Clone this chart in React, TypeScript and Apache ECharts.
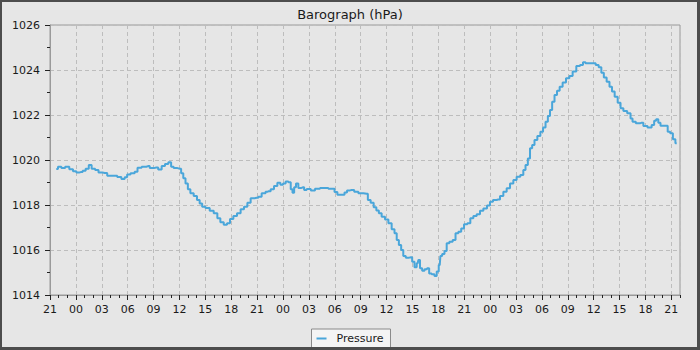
import React, { useEffect, useRef } from "react";
import * as echarts from "echarts";

const title = "Barograph (hPa)";
const seriesName = "Pressure";
// hours elapsed since 21:00 on the first day
const hours = [
  0.73, 1.12, 1.51, 2.0, 2.47, 2.86, 3.24, 3.63, 3.94, 4.32, 4.67, 4.98, 5.48, 5.76, 6.34, 6.92, 7.5, 8.08, 8.46, 8.84,
  9.04, 9.62, 10.0, 10.28, 10.97, 11.36, 11.74, 12.32, 12.75, 13.13, 13.52, 13.9, 14.17, 14.48, 15.06, 15.33, 15.56,
  15.84, 16.11, 16.42, 16.88, 17.18, 17.5, 17.76, 18.27, 18.74, 19.2, 19.58, 19.9, 20.36, 20.66, 21.05, 21.44, 21.9,
  22.28, 22.68, 23.06, 23.44, 23.95, 24.33, 24.72, 25.23, 25.38, 25.76, 26.15, 26.54, 26.85, 27.15, 27.46, 27.78,
  28.01, 28.19, 28.39, 28.62, 28.93, 29.35, 29.55, 29.93, 30.51, 30.9, 31.67, 32.83, 33.11, 33.49, 33.99, 34.26,
  34.57, 34.96, 35.54, 35.92, 36.7, 36.96, 37.35, 37.66, 37.97, 38.24, 38.62, 39.02, 39.4, 39.78, 40.06, 40.29,
  40.56, 40.82, 41.05, 41.4, 41.83, 42.1, 42.37, 42.61, 42.76, 42.99, 43.26, 43.54, 43.84, 44.03, 44.41, 44.69,
  44.93, 45.16, 45.31, 45.57, 45.85, 46.08, 46.47, 46.85, 47.13, 47.51, 47.78, 48.17, 48.55, 48.86, 49.25, 49.63,
  50.02, 50.41, 50.87, 51.1, 51.56, 51.95, 52.34, 52.72, 53.11, 53.5, 53.88, 54.26, 54.73, 54.96, 55.24, 55.5,
  55.74, 56.0, 56.28, 56.66, 56.98, 57.28, 57.56, 57.82, 58.05, 58.32, 58.6, 58.9, 59.21, 59.59, 59.99, 60.37,
  60.75, 61.22, 61.61, 61.91, 62.19, 62.77, 63.04, 63.42, 63.73, 64.04, 64.31, 64.69, 64.97, 65.27, 65.59, 65.97,
  66.25, 66.63, 67.13, 67.41, 67.59, 68.17, 68.56, 68.95, 69.52, 69.91, 70.1, 70.37, 70.6, 70.88, 71.46, 71.69,
  72.04, 72.31, 72.62,
];
const pressure = [
  1019.6, 1019.7, 1019.64, 1019.7, 1019.59, 1019.5, 1019.45, 1019.47, 1019.52, 1019.61, 1019.78, 1019.61, 1019.56,
  1019.45, 1019.42, 1019.3, 1019.3, 1019.24, 1019.16, 1019.23, 1019.36, 1019.41, 1019.48, 1019.66, 1019.7, 1019.73,
  1019.64, 1019.67, 1019.58, 1019.73, 1019.82, 1019.9, 1019.7, 1019.64, 1019.61, 1019.41, 1019.19, 1018.96, 1018.7,
  1018.52, 1018.4, 1018.22, 1018.07, 1017.92, 1017.87, 1017.75, 1017.63, 1017.41, 1017.23, 1017.12, 1017.19,
  1017.38, 1017.51, 1017.63, 1017.81, 1017.92, 1018.1, 1018.3, 1018.32, 1018.37, 1018.52, 1018.59, 1018.61, 1018.7,
  1018.84, 1018.99, 1018.9, 1018.96, 1019.05, 1019.01, 1018.7, 1018.55, 1018.79, 1018.96, 1018.76, 1018.79, 1018.67,
  1018.71, 1018.65, 1018.72, 1018.76, 1018.72, 1018.58, 1018.46, 1018.46, 1018.56, 1018.65, 1018.67, 1018.59,
  1018.52, 1018.5, 1018.22, 1018.1, 1017.9, 1017.76, 1017.63, 1017.48, 1017.36, 1017.19, 1016.92, 1016.74, 1016.44,
  1016.22, 1016.0, 1015.73, 1015.66, 1015.68, 1015.48, 1015.23, 1015.41, 1015.56, 1015.19, 1015.08, 1015.14,
  1015.19, 1014.96, 1014.92, 1014.84, 1015.04, 1015.33, 1015.73, 1015.82, 1015.96, 1016.3, 1016.37, 1016.44,
  1016.74, 1016.81, 1016.96, 1017.14, 1017.19, 1017.41, 1017.51, 1017.59, 1017.75, 1017.85, 1017.98, 1018.15,
  1018.22, 1018.25, 1018.4, 1018.59, 1018.74, 1018.96, 1019.11, 1019.26, 1019.33, 1019.56, 1019.78, 1020.07,
  1020.52, 1020.67, 1020.89, 1021.07, 1021.26, 1021.45, 1021.7, 1021.96, 1022.22, 1022.59, 1022.89, 1023.08,
  1023.26, 1023.44, 1023.63, 1023.73, 1023.93, 1024.18, 1024.22, 1024.34, 1024.3, 1024.3, 1024.3, 1024.22, 1024.12,
  1023.88, 1023.67, 1023.48, 1023.26, 1023.04, 1022.81, 1022.55, 1022.3, 1022.18, 1022.08, 1021.85, 1021.7,
  1021.63, 1021.66, 1021.51, 1021.44, 1021.56, 1021.75, 1021.81, 1021.66, 1021.52, 1021.52, 1021.26, 1021.19,
  1020.92, 1020.74,
];
const startHour = 21;
const xMin = 0;
const xMax = 73;
const yMin = 1014;
const yMax = 1026;

const FONT = "DejaVu Sans";

export default function App() {
  const ref = useRef<HTMLDivElement>(null);
  useEffect(() => {
    if (!ref.current) return;
    const chart = echarts.init(ref.current, null, { renderer: "svg" });
    const data = hours.map((h, i) => [h, pressure[i]]);
    const hourLabel = (v: number) => {
      const hh = (((startHour + Math.round(v)) % 24) + 24) % 24;
      return hh < 10 ? "0" + hh : String(hh);
    };
    chart.setOption({
      animation: false,
      backgroundColor: "#e6e6e6",
      textStyle: { fontFamily: FONT },
      title: {
        text: title,
        left: "center",
        top: 3,
        textStyle: { fontFamily: FONT, fontSize: 13, fontWeight: "normal", color: "#1a1a1a" },
      },
      legend: {
        data: [seriesName],
        left: "center",
        top: 329,
        backgroundColor: "#f4f4f4",
        borderColor: "#8a8a8a",
        borderWidth: 1,
        borderRadius: 0,
        padding: [4, 7, 6, 5],
        icon: "rect",
        itemWidth: 10,
        itemHeight: 2,
        textStyle: { fontFamily: FONT, fontSize: 11, color: "#1a1a1a", padding: [0, 0, 0, 5] },
      },
      grid: {
        left: 50,
        right: 20,
        top: 25,
        bottom: 55,
        show: true,
        backgroundColor: "#e6e6e6",
        borderColor: "#9a9a9a",
        borderWidth: 1,
      },
      xAxis: [
        {
          type: "value",
          position: "bottom",
          min: xMin,
          max: xMax,
          interval: 3,
          axisLine: { show: true, lineStyle: { color: "#9a9a9a", width: 1 } },
          axisTick: { show: true, length: 5, lineStyle: { color: "#222" } },
          axisLabel: {
            margin: 9,
            fontFamily: FONT,
            fontSize: 11,
            color: "#1a1a1a",
            showMaxLabel: false,
            formatter: (v: number) => hourLabel(v),
          },
          splitLine: { show: true, lineStyle: { color: "#bdbdbd", type: [4, 3], width: 1 } },
        },
        {
          type: "value",
          position: "bottom",
          min: xMin,
          max: xMax,
          interval: 1,
          axisLine: { show: false },
          axisTick: { show: true, length: 3, lineStyle: { color: "#222" } },
          axisLabel: { show: false },
          splitLine: { show: false },
        },
      ],
      yAxis: {
        type: "value",
        min: yMin,
        max: yMax,
        interval: 2,
        axisLine: { show: true, lineStyle: { color: "#9a9a9a", width: 1 } },
        axisTick: { show: true, length: 5, lineStyle: { color: "#222" } },
        minorTick: { show: true, splitNumber: 2, length: 3, lineStyle: { color: "#222" } },
        axisLabel: {
          margin: 10,
          fontFamily: FONT,
          fontSize: 11,
          color: "#1a1a1a",
          formatter: (v: number) => String(v),
        },
        splitLine: { show: true, lineStyle: { color: "#bdbdbd", type: [4, 3], width: 1 } },
      },
      series: [
        {
          name: seriesName,
          type: "line",
          xAxisIndex: 0,
          step: "middle",
          showSymbol: false,
          symbol: "none",
          data,
          lineStyle: { color: "#4aa6da", width: 2 },
          itemStyle: { color: "#4aa6da" },
        },
      ],
    });
    return () => chart.dispose();
  }, []);
  return (
    <div style={{ position: "fixed", left: 0, top: 0, width: 700, height: 350 }}>
      <div ref={ref} style={{ width: 700, height: 350 }} />
      <div
        style={{
          position: "absolute",
          left: 0,
          top: 0,
          width: 700,
          height: 350,
          boxSizing: "border-box",
          borderStyle: "solid",
          borderColor: "#4d4d4d",
          borderWidth: "2px 3px 3px 2px",
          pointerEvents: "none",
        }}
      />
    </div>
  );
}
